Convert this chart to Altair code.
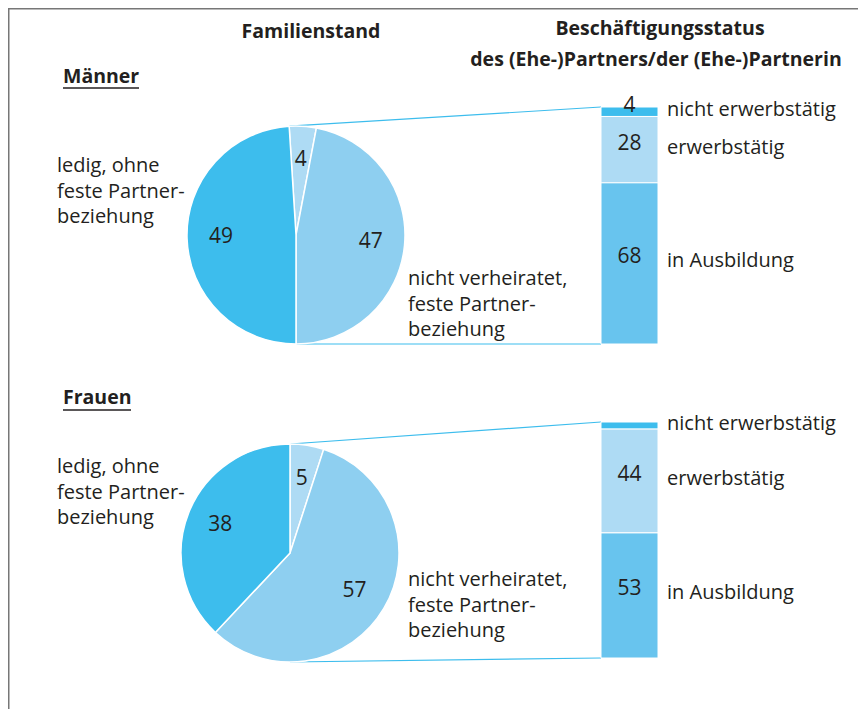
import math
import altair as alt
import pandas as pd

# ---------------- data ----------------
groups = ["Männer", "Frauen"]
pie_cats = ["verheiratet",
            "nicht verheiratet, feste Partnerbeziehung",
            "ledig, ohne feste Partnerbeziehung"]
pie_men = [4, 47, 49]
pie_women = [5, 57, 38]

bar_cats = ["nicht erwerbstätig", "erwerbstätig", "in Ausbildung"]
bar_men = [4, 28, 68]
bar_women = [3, 44, 53]
bar_show_men = [True, True, True]
bar_show_women = [False, True, True]

title_left = "Familienstand"
title_right = ["Beschäftigungsstatus", "des (Ehe-)Partners/der (Ehe-)Partnerin"]
label_ledig = ["ledig, ohne", "feste Partner-", "beziehung"]
label_nv = ["nicht verheiratet,", "feste Partner-", "beziehung"]

# ---------------- layout ----------------
W, H = 850, 701
FONT = "Open Sans"
TXT = "#231F20"
C_DARK = "#3DBDED"
C_MID = "#8ECFF0"
C_LIGHT = "#AEDBF4"
C_BAR = "#68C4EE"
LINE = "#3DBDED"
FS_LAB = 20
FS_BOLD = 19.5
FS_NUM = 21

pie_center = {"Männer": (296, 235), "Frauen": (290, 553)}
pie_start_deg = {"Männer": -3.6, "Frauen": 0.0}
R = 109
bar_x0, bar_x1 = 601, 658
bar_span = {"Männer": (107, 344), "Frauen": (422, 658)}
group_title_y = {"Männer": 77, "Frauen": 398}

xs = alt.Scale(domain=[8, 8 + W], nice=False, zero=False)
ys = alt.Scale(domain=[8, 8 + H], nice=False, zero=False, reverse=True)
color_scale = alt.Scale(domain=pie_cats + bar_cats,
                        range=[C_LIGHT, C_MID, C_DARK, C_DARK, C_LIGHT, C_BAR])


def X(f):
    return alt.X(f, type="quantitative", scale=xs, axis=None)


def Y(f):
    return alt.Y(f, type="quantitative", scale=ys, axis=None)


# ---------------- pies ----------------
def pie_layer(g, vals):
    cx, cy = pie_center[g]
    st = math.radians(pie_start_deg[g])
    df = pd.DataFrame({"cat": pie_cats, "v": vals, "ord": [0, 1, 2],
                       "cx": cx, "cy": cy, "lab": [str(v) for v in vals]})
    theta = alt.Theta("v:Q", stack=True,
                      scale=alt.Scale(domain=[0, 100], range=[st, st + 2 * math.pi]))
    base = alt.Chart(df).encode(x=X("cx"), y=Y("cy"), theta=theta,
                                order=alt.Order("ord:Q"))
    arcs = base.mark_arc(radius=R, stroke="white", strokeWidth=1.5).encode(
        color=alt.Color("cat:N", scale=color_scale, legend=None))
    txt = base.mark_text(radius=75, font=FONT, fontSize=FS_NUM, color=TXT).encode(
        text="lab:N")
    return alt.layer(arcs, txt)


# ---------------- bars ----------------
rows = []
for g, vals, show in [("Männer", bar_men, bar_show_men), ("Frauen", bar_women, bar_show_women)]:
    t, b = bar_span[g]
    cum = 0
    for c, v, s in zip(bar_cats, vals, show):
        y0 = t + cum / 100 * (b - t)
        cum += v
        y1 = t + cum / 100 * (b - t)
        rows.append({"g": g, "cat": c, "v": v, "x0": bar_x0, "x1": bar_x1,
                     "y0": y0, "y1": y1, "xm": (bar_x0 + bar_x1) / 2,
                     "ym": (y0 + y1) / 2 - 6, "yl": (y0 + y1) / 2 - 2,
                     "xl": bar_x1 + 9, "num": str(v) if s else ""})
bars_df = pd.DataFrame(rows)

bars = alt.Chart(bars_df).mark_rect(stroke="white", strokeWidth=1).encode(
    x=X("x0"), x2="x1", y=Y("y0"), y2="y1",
    color=alt.Color("cat:N", scale=color_scale, legend=None))
bar_nums = alt.Chart(bars_df).mark_text(font=FONT, fontSize=FS_NUM, color=TXT).encode(
    x=X("xm"), y=Y("ym"), text="num:N")
bar_labs = alt.Chart(bars_df).mark_text(font=FONT, fontSize=FS_LAB, color=TXT, align="left").encode(
    x=X("xl"), y=Y("yl"), text="cat:N")

# ---------------- connecting lines ----------------
lines = []
for g in groups:
    cx, cy = pie_center[g]
    st = math.radians(pie_start_deg[g])
    t, b = bar_span[g]
    lines.append({"x": cx + R * math.sin(st), "y": cy - R * math.cos(st), "x2": bar_x0, "y2": t})
    lines.append({"x": cx, "y": cy + R, "x2": bar_x0, "y2": b})
    lines.append({"x": bar_x0 + 1, "y": t, "x2": bar_x0 + 1, "y2": b})
lines_df = pd.DataFrame(lines)
conn = alt.Chart(lines_df).mark_rule(color=LINE, strokeWidth=1.2).encode(
    x=X("x"), y=Y("y"), x2="x2", y2="y2")

# ---------------- frame ----------------
frame_df = pd.DataFrame([
    {"x": 8.5, "y": 8, "x2": 8.5, "y2": 8 + H},
    {"x": 8, "y": 8.5, "x2": 8 + W, "y2": 8.5},
])
frame = alt.Chart(frame_df).mark_rule(color="#777777", strokeWidth=2).encode(
    x=X("x"), y=Y("y"), x2="x2", y2="y2")

# ---------------- texts ----------------
titles_df = pd.DataFrame([
    {"x": 311, "y": 32, "t": title_left},
    {"x": 660, "y": 29, "t": title_right[0]},
    {"x": 656, "y": 60, "t": title_right[1]},
])
titles = alt.Chart(titles_df).mark_text(font=FONT, fontSize=FS_BOLD, fontWeight="bold", color=TXT).encode(
    x=X("x"), y=Y("y"), text="t:N")

gt_df = pd.DataFrame([{"x": 63, "y": group_title_y[g], "t": g} for g in groups])
gtitles = alt.Chart(gt_df).mark_text(font=FONT, fontSize=FS_BOLD, fontWeight="bold", color=TXT,
                                     align="left").encode(x=X("x"), y=Y("y"), text="t:N")
ul_df = pd.DataFrame([
    {"x": 63, "x2": 139, "y": group_title_y["Männer"] + 11},
    {"x": 63, "x2": 131, "y": group_title_y["Frauen"] + 12},
])
underline = alt.Chart(ul_df).mark_rule(color=TXT, strokeWidth=1.6).encode(
    x=X("x"), x2="x2", y=Y("y"))

side = []
for g, yl, yr in [("Männer", 166, 279), ("Frauen", 467, 580)]:
    for i, s in enumerate(label_ledig):
        side.append({"x": 57, "y": yl + i * 25.5, "t": s})
    for i, s in enumerate(label_nv):
        side.append({"x": 408, "y": yr + i * 25.5, "t": s})
side_df = pd.DataFrame(side)
side_txt = alt.Chart(side_df).mark_text(font=FONT, fontSize=FS_LAB, color=TXT, align="left").encode(
    x=X("x"), y=Y("y"), text="t:N")

chart = alt.layer(
    frame, conn,
    pie_layer("Männer", pie_men),
    pie_layer("Frauen", pie_women),
    bars, bar_nums, bar_labs,
    titles, gtitles, underline, side_txt,
).resolve_scale(theta="independent").properties(
    width=W, height=H, padding=0, autosize=alt.AutoSizeParams(type="none")
).configure_view(stroke=None)

chart.save("out.html", embed_options={"renderer": "svg", "actions": False})
